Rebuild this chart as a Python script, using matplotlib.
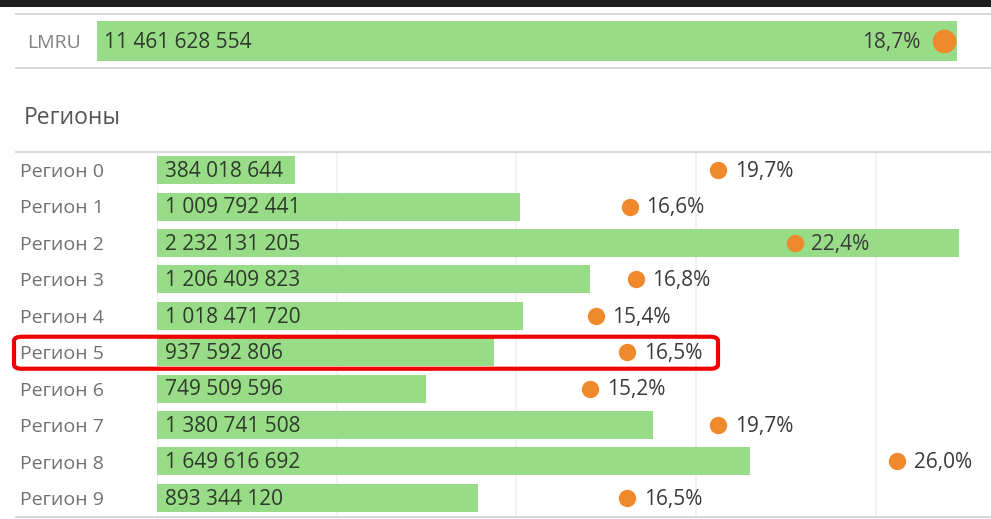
import matplotlib
matplotlib.use("Agg")
import matplotlib.pyplot as plt
from matplotlib.lines import Line2D
from matplotlib.patches import FancyBboxPatch, Rectangle

plt.rcParams['font.family'] = ['Open Sans', 'DejaVu Sans']

# ---- data ----
total_label = "LMRU"
total_value = 11461628554
total_pct = 18.7

regions = ["Регион 0", "Регион 1", "Регион 2", "Регион 3", "Регион 4",
           "Регион 5", "Регион 6", "Регион 7", "Регион 8", "Регион 9"]
values = [384018644, 1009792441, 2232131205, 1206409823, 1018471720,
          937592806, 749509596, 1380741508, 1649616692, 893344120]
pcts = [19.7, 16.6, 22.4, 16.8, 15.4, 16.5, 15.2, 19.7, 26.0, 16.5]
section_title = "Регионы"
highlight = "Регион 5"

W, H = 991, 519
GREEN = "#98DC88"
ORANGE = "#F0892B"
GRID = "#F0F0F0"
SEP = "#D4D4D4"
VAL_C = "#2E3A2A"
PCT_C = "#3A3A3A"
LAB_C = "#707070"

def fmt_num(v):
    return f"{v:,}".replace(",", " ")

def fmt_pct(p):
    return f"{p:.1f}%".replace(".", ",")

fig = plt.figure(figsize=(W / 100, H / 100), dpi=100)
fig.patch.set_facecolor("white")

def fx(px):
    return px / W

def fy(py):
    return 1 - py / H

def hline(x0, x1, y, color=SEP, lw=1.3):
    fig.add_artist(Line2D([fx(x0), fx(x1)], [fy(y), fy(y)], color=color, lw=lw,
                          transform=fig.transFigure))

# dark top band
fig.add_artist(Rectangle((0, fy(7)), 1, 7 / H, transform=fig.transFigure,
                         facecolor="#1E1E1E", edgecolor="none"))

# ---- top LMRU row ----
ax_t = fig.add_axes([fx(97), fy(68), fx(991 - 97), (68 - 14) / H])
ax_t.set_xlim(0, total_value * (991 - 97) / (957 - 97))
ax_t.set_ylim(0, 1)
ax_t.barh([0.5], [total_value], height=39 / 54, left=0, color=GREEN)
ax_t.axis("off")
ax_t2 = ax_t.twiny()
ax_t2.set_xlim(0, total_pct * (991 - 97) / (944 - 97))
ax_t2.set_ylim(0, 1)
ax_t2.plot([total_pct], [0.5], "o", color=ORANGE, ms=17, mec="none")
ax_t2.axis("off")
ax_t.annotate(fmt_num(total_value), (0, 0.5), xytext=(5, -1),
              textcoords="offset points", va="center", ha="left",
              fontsize=15, color=VAL_C)
ax_t2.annotate(fmt_pct(total_pct), (total_pct, 0.5), xytext=(-17, -1),
               textcoords="offset points", va="center", ha="right",
               fontsize=15, color=PCT_C)
fig.text(fx(27), fy(43), total_label, va="center", ha="left", fontsize=14,
         color="#808080")
hline(16, 991, 14)
hline(16, 991, 68)

# ---- section title ----
fig.text(fx(24), fy(118), section_title, va="center", ha="left", fontsize=16.5,
         color="#555555")

# ---- regions ----
top, bot = 152, 517
n = len(regions)
x_left = 157
ax = fig.add_axes([fx(x_left), fy(bot - 1), fx(991 - x_left), (bot - 1 - top) / H])
val_scale = (959 - x_left) / max(values)
ax.set_xlim(0, (991 - x_left) / val_scale)
ax.set_ylim(n - 0.5, -0.5)
ax.set_xticks([0, 5e8, 1e9, 1.5e9, 2e9])
ax.grid(axis="x", color=GRID, lw=1.2)
ax.set_axisbelow(True)
for s in ax.spines.values():
    s.set_visible(False)
ypos = list(range(n))
ax.barh(ypos, values, height=28 / 36.5, color=GREEN, zorder=2)
for y, v in zip(ypos, values):
    ax.annotate(fmt_num(v), (0, y), xytext=(5.5, -1), textcoords="offset points",
                va="center", ha="left", fontsize=15, color=VAL_C, zorder=3)

ax2 = ax.twiny()
pct_scale = (718 - 158) / 19.7
ax2.set_xlim(-(158 - x_left) / pct_scale, (991 - 158) / pct_scale)
ax2.set_ylim(n - 0.5, -0.5)
ax2.axis("off")
ax.tick_params(left=False, bottom=False, top=False, labelleft=False,
               labelbottom=False, labeltop=False)
ax2.plot(pcts, ypos, "o", color=ORANGE, ms=12.5, mec="none", ls="none", zorder=4)
for y, p in zip(ypos, pcts):
    ax2.annotate(fmt_pct(p), (p, y), xytext=(12, -1), textcoords="offset points",
                 va="center", ha="left", fontsize=15, color=PCT_C)

row_h = (bot - top) / n
for i, r in enumerate(regions):
    cy = top + row_h * (i + 0.5)
    fig.text(fx(20), fy(cy + 1.5), r, va="center", ha="left", fontsize=14,
             color=LAB_C)

hline(16, 991, top)
hline(16, 991, bot)

# highlight box
hi = regions.index(highlight)
cy = top + row_h * (hi + 0.5)
box = FancyBboxPatch((fx(14), fy(cy + 16)), fx(718 - 14), 32 / H,
                     boxstyle="round,pad=0,rounding_size=0.008",
                     transform=fig.transFigure, facecolor="none",
                     edgecolor="#F00000", lw=3)
fig.add_artist(box)

fig.savefig("out.png", dpi=100, facecolor="white")
